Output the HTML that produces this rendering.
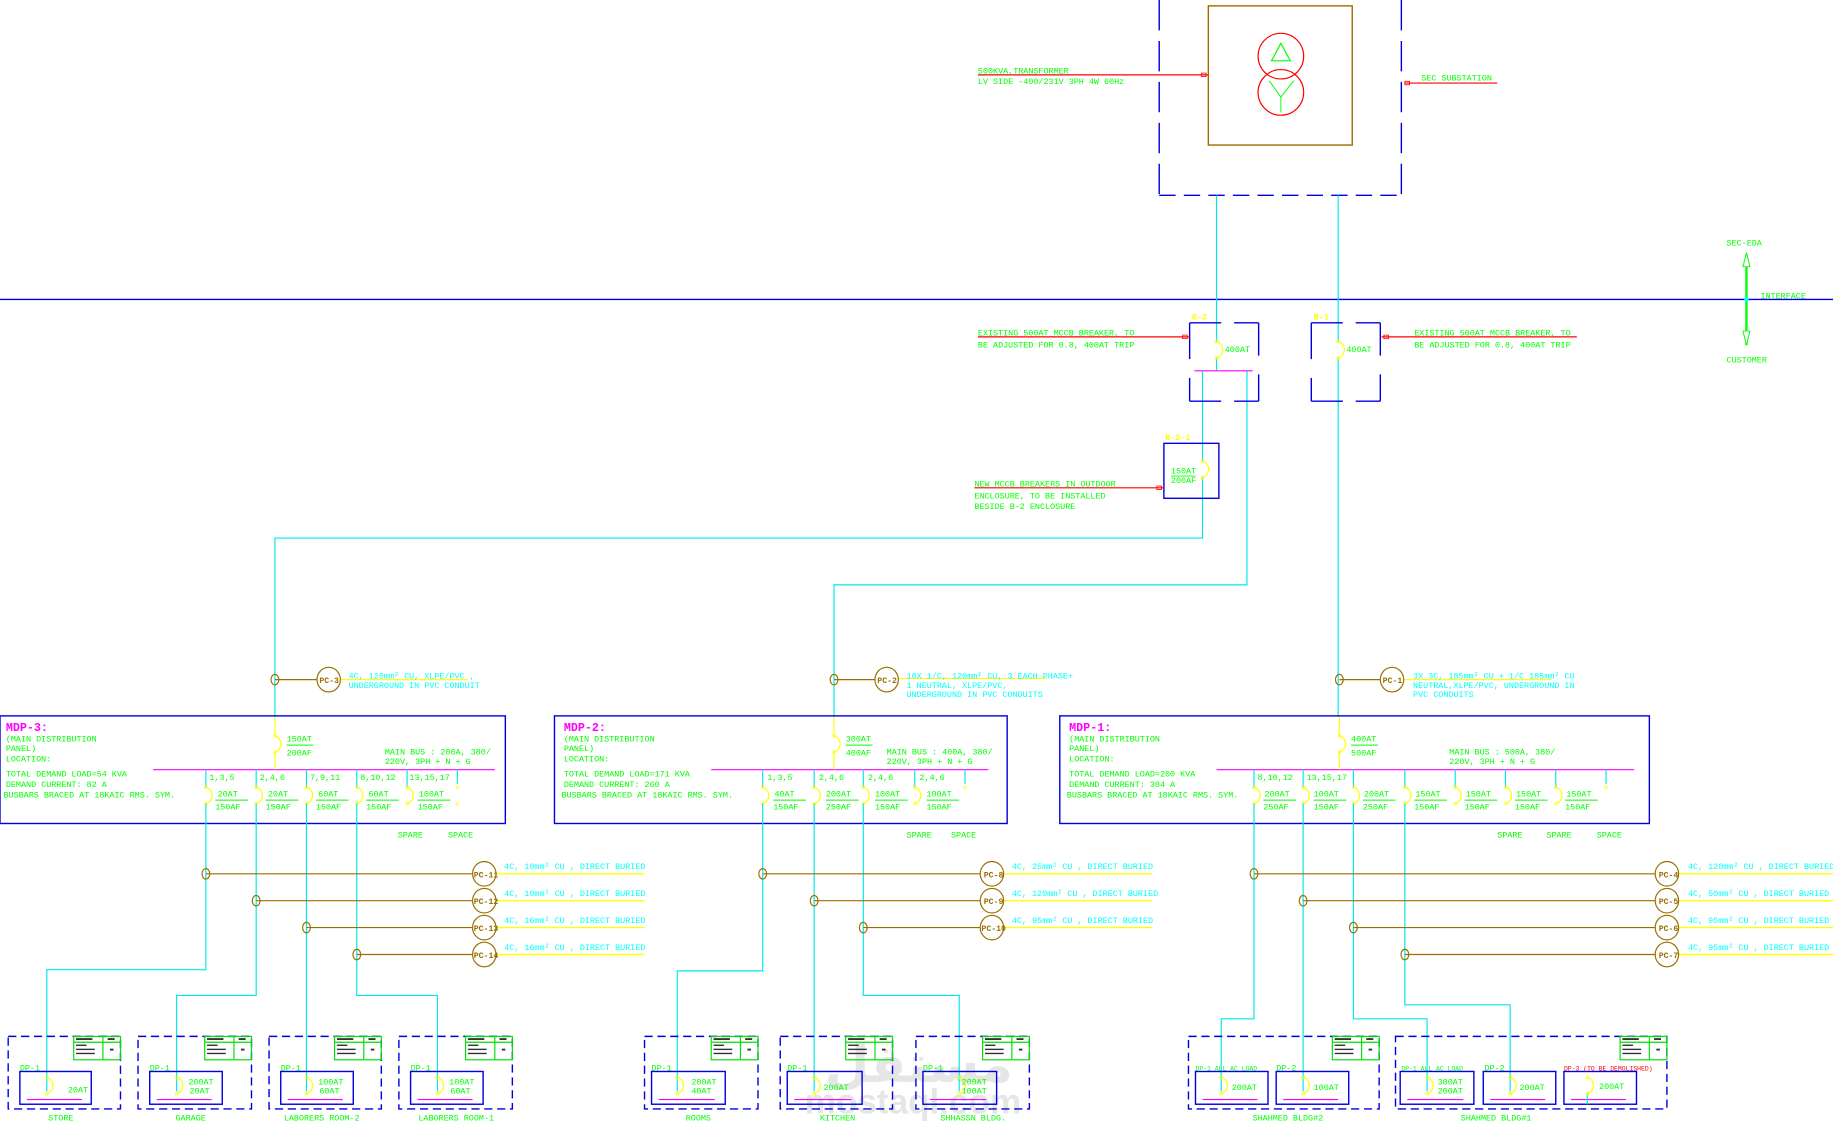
<!DOCTYPE html>
<html><head><meta charset="utf-8"><style>
html,body{margin:0;padding:0;background:#fff;}
svg{display:block}
text{font-family:"Liberation Mono",monospace;font-size:7.2px;}
.g{fill:#00ff00}.c{fill:#00ffff}.y{fill:#ffff00;font-weight:bold}.m{fill:#ff00ff;font-weight:bold;font-size:10px}.r{fill:#ff0000}.br{fill:#9a6f00;font-weight:bold;font-size:7px}
.w{fill:#e6e6e6;font-family:"Liberation Sans","DejaVu Sans",sans-serif;font-weight:bold}
</style></head><body>
<svg width="1833" height="1144" viewBox="0 0 1567 978" preserveAspectRatio="none" xmlns="http://www.w3.org/2000/svg">
<defs>
<g id="b"><path d="M0,0 c7,2 7,12 0,14" fill="none" stroke="#ff0" stroke-width="1"/><circle cx="0" cy="0" r="1.2" fill="none" stroke="#ff0" stroke-width=".6"/><circle cx="0" cy="14" r="1.2" fill="none" stroke="#ff0" stroke-width=".6"/></g>
<g id="tbl"><rect x="0" y="0" width="40" height="20" fill="none" stroke="#00e000" stroke-width="1"/><line x1="25" y1="0" x2="25" y2="20" stroke="#00e000"/><line x1="0" y1="5" x2="40" y2="5" stroke="#00e000"/><rect x="2" y="1.5" width="14" height="1.6" fill="#333"/><rect x="29" y="1.5" width="6" height="1.6" fill="#333"/><rect x="2" y="7" width="9" height="1.2" fill="#333"/><rect x="2" y="10.5" width="16" height="1.2" fill="#333"/><rect x="2" y="14" width="16" height="1.2" fill="#333"/><rect x="31" y="10.5" width="3" height="1.6" fill="#333"/></g>
<g id="pc"><ellipse cx="0" cy="0" rx="10" ry="10.5" fill="#fff" stroke="#9a6f00" stroke-width="1"/></g>
<g id="tap"><ellipse cx="0" cy="0" rx="3.3" ry="4.5" fill="none" stroke="#9a6f00" stroke-width="1"/></g>
</defs>

<!-- watermark -->
<text x="705" y="925" class="w" style="font-size:44px">مستقل</text>
<text x="688" y="952" class="w" style="font-size:30px">mostaql.com</text>

<!-- transformer -->
<g stroke="#0000e0" stroke-width="1.2" fill="none">
<line x1="991" y1="0" x2="991" y2="167" stroke-dasharray="26,9"/>
<line x1="1198" y1="0" x2="1198" y2="167" stroke-dasharray="26,9"/>
<line x1="991" y1="167" x2="1198" y2="167" stroke-dasharray="14,7"/>
<line x1="0" y1="256" x2="1567" y2="256"/>
</g>
<rect x="1033" y="5" width="123" height="119" fill="none" stroke="#9a6f00" stroke-width="1.2"/>
<circle cx="1095" cy="48" r="19.5" fill="none" stroke="#f00" stroke-width="1"/>
<circle cx="1095" cy="79" r="19.5" fill="none" stroke="#f00" stroke-width="1"/>
<path d="M1095,37 L1087,52 L1103,52 Z" fill="none" stroke="#0f0" stroke-width="1"/>
<path d="M1085,69 L1095,83 L1106,69 M1095,83 L1095,96" fill="none" stroke="#0f0" stroke-width=".8"/>
<line x1="836" y1="64" x2="1033" y2="64" stroke="#f00" stroke-width="1"/><rect x="1027" y="62.5" width="4" height="3" fill="none" stroke="#f00" stroke-width=".7"/>
<text x="836" y="63" class="g">500KVA,TRANSFORMER</text>
<text x="836" y="72" class="g">LV SIDE -400/231V 3PH 4W 60Hz</text>
<line x1="1201" y1="71" x2="1280" y2="71" stroke="#f00" stroke-width="1"/><rect x="1201" y="69.5" width="4" height="3" fill="none" stroke="#f00" stroke-width=".7"/>
<text x="1215" y="69" class="g">SEC SUBSTATION</text>

<!-- interface -->
<line x1="1493" y1="218" x2="1493" y2="295" stroke="#0f0" stroke-width="2"/>
<path d="M1493,216 L1490,228 L1496,228 Z M1493,295 L1490,283 L1496,283 Z" fill="#fff" stroke="#0f0" stroke-width=".8"/>
<circle cx="1493" cy="256" r="2" fill="#0ff"/>
<text x="1476" y="210" class="g">SEC-EDA</text>
<text x="1505" y="255" class="g">INTERFACE</text>
<text x="1476" y="310" class="g">CUSTOMER</text>

<!-- cyan main feeders -->
<g stroke="#00e8e8" stroke-width="1" fill="none">
<polyline points="1040,167 1040,292"/>
<polyline points="1040,306 1040,317"/>
<polyline points="1144,167 1144,292"/>
<polyline points="1144,306 1144,613"/>
<polyline points="1028,317 1028,394"/>
<polyline points="1028,408 1028,460 235,460 235,613"/>
<polyline points="1066,317 1066,500 713,500 713,613"/>
</g>
<line x1="1021" y1="317" x2="1071" y2="317" stroke="#f0f" stroke-width="1"/>
<use href="#b" x="1040" y="292"/><use href="#b" x="1144" y="292"/><use href="#b" x="1028" y="394"/>

<!-- B-2, B-1 -->
<g stroke="#0000e0" stroke-width="1.2" fill="none">
<path d="M1017,276 H1044 M1055,276 H1076 M1076,276 V304 M1076,320 V343 M1076,343 H1055 M1044,343 H1017 M1017,343 V323 M1017,307 V276"/>
<path d="M1121,276 H1148 M1159,276 H1180 M1180,276 V304 M1180,320 V343 M1180,343 H1159 M1148,343 H1121 M1121,343 V323 M1121,307 V276"/>
<rect x="995" y="379" width="47" height="47"/>
</g>
<text x="1019" y="273" class="y">B-2</text>
<text x="1123" y="273" class="y">B-1</text>
<text x="996" y="376" class="y">B-2-1</text>
<text x="1047" y="301" class="g">400AT</text>
<text x="1151" y="301" class="g">400AT</text>
<text x="1001" y="405" class="g">150AT</text><line x1="1001" y1="407" x2="1022" y2="407" stroke="#0f0" stroke-width=".8"/>
<text x="1001" y="413" class="g">200AF</text>
<line x1="836" y1="288" x2="1017" y2="288" stroke="#f00" stroke-width="1"/><rect x="1011" y="286.5" width="4" height="3" fill="none" stroke="#f00" stroke-width=".7"/>
<text x="836" y="287" class="g">EXISTING 500AT MCCB BREAKER, TO</text>
<text x="836" y="297" class="g">BE ADJUSTED FOR 0.8, 400AT TRIP</text>
<line x1="1181" y1="288" x2="1348" y2="288" stroke="#f00" stroke-width="1"/><rect x="1183" y="286.5" width="4" height="3" fill="none" stroke="#f00" stroke-width=".7"/>
<text x="1209" y="287" class="g">EXISTING 500AT MCCB BREAKER, TO</text>
<text x="1209" y="297" class="g">BE ADJUSTED FOR 0.8, 400AT TRIP</text>
<line x1="833" y1="417" x2="995" y2="417" stroke="#f00" stroke-width="1"/><rect x="989" y="415.5" width="4" height="3" fill="none" stroke="#f00" stroke-width=".7"/>
<text x="833" y="416" class="g">NEW MCCB BREAKERS IN OUTDOOR</text>
<text x="833" y="426" class="g">ENCLOSURE, TO BE INSTALLED</text>
<text x="833" y="435" class="g">BESIDE B-2 ENCLOSURE</text>

<!-- PC-3, PC-2, PC-1 -->
<g stroke="#9a6f00" stroke-width="1"><line x1="235" y1="581" x2="271" y2="581"/><line x1="713" y1="581" x2="748" y2="581"/><line x1="1145" y1="581" x2="1180" y2="581"/></g>
<g stroke="#ff0" stroke-width="1"><line x1="291" y1="581" x2="400" y2="581"/><line x1="768" y1="580" x2="895" y2="580"/><line x1="1200" y1="581" x2="1326" y2="581"/></g>
<use href="#tap" x="235" y="581"/><use href="#tap" x="713" y="581"/><use href="#tap" x="1145" y="581"/>
<use href="#pc" x="281" y="581"/><use href="#pc" x="758" y="581"/><use href="#pc" x="1190" y="581"/>
<text x="273" y="584" class="br">PC-3</text><text x="750" y="584" class="br">PC-2</text><text x="1182" y="584" class="br">PC-1</text>
<text x="298" y="580" class="c">4C, 120mm² CU, XLPE/PVC ,</text>
<text x="298" y="588" class="c">UNDERGROUND IN PVC CONDUIT</text>
<text x="775" y="580" class="c">10X 1/C, 120mm² CU, 3 EACH PHASE+</text>
<text x="775" y="588" class="c">1 NEUTRAL, XLPE/PVC,</text>
<text x="775" y="596" class="c">UNDERGROUND IN PVC CONDUITS</text>
<text x="1208" y="580" class="c">3X 3C, 185mm² CU + 1/C 185mm² CU</text>
<text x="1208" y="588" class="c">NEUTRAL,XLPE/PVC, UNDERGROUND IN</text>
<text x="1208" y="596" class="c">PVC CONDUITS</text>

<!-- MDP boxes -->
<g fill="none" stroke="#0000e0" stroke-width="1.2">
<rect x="0" y="612" width="432" height="92"/>
<rect x="474" y="612" width="387" height="92"/>
<rect x="906" y="612" width="504" height="92"/>
</g>
<g stroke="#f0f" stroke-width="1"><line x1="131" y1="658" x2="423" y2="658"/><line x1="608" y1="658" x2="845" y2="658"/><line x1="1040" y1="658" x2="1397" y2="658"/></g>
<g stroke="#ff0" stroke-width="1"><path d="M235,613V629M235,643V658M713,613V629M713,643V658M1145,613V629M1145,643V658"/></g>
<use href="#b" x="235" y="629"/><use href="#b" x="713" y="629"/><use href="#b" x="1145" y="629"/>
<text x="245" y="634" class="g">150AT</text><line x1="245" y1="637" x2="268" y2="637" stroke="#0f0" stroke-width=".8"/><text x="245" y="646" class="g">200AF</text>
<text x="723" y="634" class="g">300AT</text><line x1="723" y1="637" x2="746" y2="637" stroke="#0f0" stroke-width=".8"/><text x="723" y="646" class="g">400AF</text>
<text x="1155" y="634" class="g">400AT</text><line x1="1155" y1="637" x2="1178" y2="637" stroke="#0f0" stroke-width=".8"/><text x="1155" y="646" class="g">500AF</text>

<text x="5" y="625" class="m">MDP-3:</text>
<text x="5" y="634" class="g">(MAIN DISTRIBUTION</text><text x="5" y="642" class="g">PANEL)</text><text x="5" y="651" class="g">LOCATION:</text>
<text x="5" y="664" class="g">TOTAL DEMAND LOAD=54 KVA</text><text x="5" y="673" class="g">DEMAND CURRENT: 82 A</text><text x="3" y="682" class="g">BUSBARS BRACED AT 18KAIC RMS. SYM.</text>
<text x="329" y="645" class="g">MAIN BUS : 200A, 380/</text><text x="329" y="653" class="g">220V, 3PH + N + G</text>
<text x="340" y="716" class="g">SPARE</text><text x="383" y="716" class="g">SPACE</text>
<text x="482" y="625" class="m">MDP-2:</text>
<text x="482" y="634" class="g">(MAIN DISTRIBUTION</text><text x="482" y="642" class="g">PANEL)</text><text x="482" y="651" class="g">LOCATION:</text>
<text x="482" y="664" class="g">TOTAL DEMAND LOAD=171 KVA</text><text x="482" y="673" class="g">DEMAND CURRENT: 260 A</text><text x="480" y="682" class="g">BUSBARS BRACED AT 18KAIC RMS. SYM.</text>
<text x="758" y="645" class="g">MAIN BUS : 400A, 380/</text><text x="758" y="653" class="g">220V, 3PH + N + G</text>
<text x="775" y="716" class="g">SPARE</text><text x="813" y="716" class="g">SPACE</text>
<text x="914" y="625" class="m">MDP-1:</text>
<text x="914" y="634" class="g">(MAIN DISTRIBUTION</text><text x="914" y="642" class="g">PANEL)</text><text x="914" y="651" class="g">LOCATION:</text>
<text x="914" y="664" class="g">TOTAL DEMAND LOAD=200 KVA</text><text x="914" y="673" class="g">DEMAND CURRENT: 304 A</text><text x="912" y="682" class="g">BUSBARS BRACED AT 18KAIC RMS. SYM.</text>
<text x="1239" y="645" class="g">MAIN BUS : 500A, 380/</text><text x="1239" y="653" class="g">220V, 3PH + N + G</text>
<text x="1280" y="716" class="g">SPARE</text><text x="1322" y="716" class="g">SPARE</text><text x="1365" y="716" class="g">SPACE</text>

<g stroke="#00e8e8" stroke-width="1">
<path d="M176,658V673M219,658V673M262,658V673M305,658V673M348,658V673M391,658V670"/>
<path d="M652,658V673M696,658V673M738,658V673M782,658V673M825,658V670"/>
<path d="M1072,658V673M1114,658V673M1157,658V673M1201,658V673M1244,658V673M1287,658V673M1330,658V673M1373,658V670"/>
</g>
<use href="#b" x="176" y="673"/><use href="#b" x="219" y="673"/><use href="#b" x="262" y="673"/><use href="#b" x="305" y="673"/><use href="#b" x="348" y="673"/>
<use href="#b" x="652" y="673"/><use href="#b" x="696" y="673"/><use href="#b" x="738" y="673"/><use href="#b" x="782" y="673"/>
<use href="#b" x="1072" y="673"/><use href="#b" x="1114" y="673"/><use href="#b" x="1157" y="673"/><use href="#b" x="1201" y="673"/><use href="#b" x="1244" y="673"/><use href="#b" x="1287" y="673"/><use href="#b" x="1330" y="673"/>
<g fill="none" stroke="#ff0" stroke-width=".6"><circle cx="391" cy="673" r="1.2"/><circle cx="391" cy="687" r="1.2"/><circle cx="825" cy="673" r="1.2"/><circle cx="1373" cy="673" r="1.2"/></g>

<text x="179" y="667" class="g">1,3,5</text><text x="222" y="667" class="g">2,4,6</text><text x="265" y="667" class="g">7,9,11</text><text x="308" y="667" class="g">8,10,12</text><text x="350" y="667" class="g">13,15,17</text>
<text x="186" y="681" class="g">20AT</text><text x="184" y="692" class="g">150AF</text>
<text x="229" y="681" class="g">20AT</text><text x="227" y="692" class="g">150AF</text>
<text x="272" y="681" class="g">60AT</text><text x="270" y="692" class="g">150AF</text>
<text x="315" y="681" class="g">60AT</text><text x="313" y="692" class="g">150AF</text>
<text x="358" y="681" class="g">100AT</text><text x="357" y="692" class="g">150AF</text>
<text x="656" y="667" class="g">1,3,5</text><text x="700" y="667" class="g">2,4,6</text><text x="742" y="667" class="g">2,4,6</text><text x="786" y="667" class="g">2,4,6</text>
<text x="662" y="681" class="g">40AT</text><text x="661" y="692" class="g">150AF</text>
<text x="706" y="681" class="g">200AT</text><text x="706" y="692" class="g">250AF</text>
<text x="748" y="681" class="g">100AT</text><text x="748" y="692" class="g">150AF</text>
<text x="792" y="681" class="g">100AT</text><text x="792" y="692" class="g">150AF</text>
<text x="1075" y="667" class="g">8,10,12</text><text x="1117" y="667" class="g">13,15,17</text>
<text x="1081" y="681" class="g">200AT</text><text x="1080" y="692" class="g">250AF</text>
<text x="1123" y="681" class="g">100AT</text><text x="1123" y="692" class="g">150AF</text>
<text x="1166" y="681" class="g">200AT</text><text x="1165" y="692" class="g">250AF</text>
<text x="1210" y="681" class="g">150AT</text><text x="1209" y="692" class="g">150AF</text>
<text x="1253" y="681" class="g">150AT</text><text x="1252" y="692" class="g">150AF</text>
<text x="1296" y="681" class="g">150AT</text><text x="1295" y="692" class="g">150AF</text>
<text x="1339" y="681" class="g">150AT</text><text x="1338" y="692" class="g">150AF</text>
<g stroke="#0f0" stroke-width=".8">
<path d="M184,684h28M227,684h28M270,684h28M313,684h28M357,684h28"/>
<path d="M661,684h28M706,684h28M748,684h28M792,684h28"/>
<path d="M1080,684h28M1123,684h28M1165,684h28M1209,684h28M1252,684h28M1295,684h28M1338,684h28"/>
</g>

<g stroke="#00e8e8" stroke-width="1" fill="none">
<polyline points="176,687 176,829 40,829 40,933"/>
<polyline points="219,687 219,851 151,851 151,933"/>
<polyline points="262,687 262,933"/>
<polyline points="305,687 305,851 374,851 374,933"/>
<polyline points="652,687 652,830 579,830 579,933"/>
<polyline points="696,687 696,933"/>
<polyline points="738,687 738,851 820,851 820,933"/>
<polyline points="1072,687 1072,871 1044,871 1044,933"/>
<polyline points="1114,687 1114,933"/>
<polyline points="1157,687 1157,871 1220,871 1220,933"/>
<polyline points="1201,687 1201,859 1291,859 1291,933"/>
</g>

<g stroke="#9a6f00" stroke-width="1">
<path d="M176,747H404M219,770H404M262,793H404M305,816H404"/>
<path d="M652,747H838M696,770H838M738,793H838"/>
<path d="M1072,747H1415M1114,770H1415M1157,793H1415M1201,816H1415"/>
</g>
<g stroke="#ff0" stroke-width="1.2">
<path d="M424,747H551M424,770H551M424,793H551M424,816H551"/>
<path d="M858,747H985M858,770H985M858,793H985"/>
<path d="M1435,747H1567M1435,770H1567M1435,793H1567M1435,816H1567"/>
</g>
<use href="#tap" x="176" y="747"/><use href="#tap" x="219" y="770"/><use href="#tap" x="262" y="793"/><use href="#tap" x="305" y="816"/>
<use href="#tap" x="652" y="747"/><use href="#tap" x="696" y="770"/><use href="#tap" x="738" y="793"/>
<use href="#tap" x="1072" y="747"/><use href="#tap" x="1114" y="770"/><use href="#tap" x="1157" y="793"/><use href="#tap" x="1201" y="816"/>
<use href="#pc" x="414" y="747"/><use href="#pc" x="414" y="770"/><use href="#pc" x="414" y="793"/><use href="#pc" x="414" y="816"/>
<use href="#pc" x="848" y="747"/><use href="#pc" x="848" y="770"/><use href="#pc" x="848" y="793"/>
<use href="#pc" x="1425" y="747"/><use href="#pc" x="1425" y="770"/><use href="#pc" x="1425" y="793"/><use href="#pc" x="1425" y="816"/>
<text x="405" y="750" class="br">PC-11</text><text x="405" y="773" class="br">PC-12</text><text x="405" y="796" class="br">PC-13</text><text x="405" y="819" class="br">PC-14</text>
<text x="841" y="750" class="br">PC-8</text><text x="841" y="773" class="br">PC-9</text><text x="839" y="796" class="br">PC-10</text>
<text x="1418" y="750" class="br">PC-4</text><text x="1418" y="773" class="br">PC-5</text><text x="1418" y="796" class="br">PC-6</text><text x="1418" y="819" class="br">PC-7</text>
<text x="431" y="743" class="c">4C, 10mm² CU , DIRECT BURIED</text>
<text x="431" y="766" class="c">4C, 10mm² CU , DIRECT BURIED</text>
<text x="431" y="789" class="c">4C, 16mm² CU , DIRECT BURIED</text>
<text x="431" y="812" class="c">4C, 16mm² CU , DIRECT BURIED</text>
<text x="865" y="743" class="c">4C, 25mm² CU , DIRECT BURIED</text>
<text x="865" y="766" class="c">4C, 120mm² CU , DIRECT BURIED</text>
<text x="865" y="789" class="c">4C, 95mm² CU , DIRECT BURIED</text>
<text x="1443" y="743" class="c">4C, 120mm² CU , DIRECT BURIED</text>
<text x="1443" y="766" class="c">4C, 50mm² CU , DIRECT BURIED</text>
<text x="1443" y="789" class="c">4C, 95mm² CU , DIRECT BURIED</text>
<text x="1443" y="812" class="c">4C, 95mm² CU , DIRECT BURIED</text>

<g fill="none" stroke="#0000e0" stroke-width="1.2" stroke-dasharray="7,4">
<rect x="7" y="886" width="96" height="62"/>
<rect x="118" y="886" width="97" height="62"/>
<rect x="230" y="886" width="96" height="62"/>
<rect x="341" y="886" width="97" height="62"/>
<rect x="551" y="886" width="97" height="62"/>
<rect x="667" y="886" width="96" height="62"/>
<rect x="783" y="886" width="97" height="62"/>
<rect x="1016" y="886" width="163" height="62"/>
<rect x="1193" y="886" width="232" height="62"/>
</g>
<g fill="none" stroke="#0000e0" stroke-width="1.2">
<rect x="17" y="916" width="61" height="28"/>
<rect x="128" y="916" width="62" height="28"/>
<rect x="240" y="916" width="62" height="28"/>
<rect x="351" y="916" width="62" height="28"/>
<rect x="557" y="916" width="63" height="28"/>
<rect x="673" y="916" width="64" height="28"/>
<rect x="789" y="916" width="63" height="28"/>
<rect x="1022" y="916" width="62" height="28"/>
<rect x="1091" y="916" width="62" height="28"/>
<rect x="1197" y="916" width="63" height="28"/>
<rect x="1268" y="916" width="62" height="28"/>
<rect x="1337" y="916" width="62" height="28"/>
</g>
<g stroke="#f0f" stroke-width="1">
<path d="M23,940h47M134,940h47M246,940h47M357,940h47M563,940h48M679,940h49M795,940h48M1028,940h47M1097,940h47M1203,940h48M1274,940h47M1343,940h47"/>
</g>
<g stroke="#00e8e8" stroke-width="1"><path d="M1357,935V944"/></g>
<use href="#tbl" x="63" y="886"/><use href="#tbl" x="175" y="886"/><use href="#tbl" x="286" y="886"/><use href="#tbl" x="398" y="886"/>
<use href="#tbl" x="608" y="886"/><use href="#tbl" x="723" y="886"/><use href="#tbl" x="840" y="886"/>
<use href="#tbl" x="1139" y="886"/><use href="#tbl" x="1385" y="886"/>
<use href="#b" x="40" y="921"/><use href="#b" x="151" y="921"/><use href="#b" x="262" y="921"/><use href="#b" x="374" y="921"/>
<use href="#b" x="579" y="921"/><use href="#b" x="696" y="921"/><use href="#b" x="820" y="921"/>
<use href="#b" x="1044" y="921"/><use href="#b" x="1114" y="921"/><use href="#b" x="1220" y="921"/><use href="#b" x="1291" y="921"/><use href="#b" x="1357" y="921"/>
<text x="17" y="915" class="g">DP-1</text><text x="128" y="915" class="g">DP-1</text><text x="240" y="915" class="g">DP-1</text><text x="351" y="915" class="g">DP-1</text>
<text x="557" y="915" class="g">DP-1</text><text x="673" y="915" class="g">DP-1</text><text x="789" y="915" class="g">DP-1</text>
<text x="1022" y="915" class="g" style="font-size:5.5px">DP-1 ALL AC LOAD</text><text x="1091" y="915" class="g">DP-2</text>
<text x="1198" y="915" class="g" style="font-size:5.5px">DP-1 ALL AC LOAD</text><text x="1269" y="915" class="g">DP-2</text><text x="1337" y="915" class="r" style="font-size:5.5px">DP-3 (TO BE DEMOLISHED)</text>
<text x="58" y="934" class="g">20AT</text>
<text x="161" y="927" class="g">200AT</text><text x="162" y="935" class="g">20AT</text>
<text x="272" y="927" class="g">100AT</text><text x="273" y="935" class="g">60AT</text>
<text x="384" y="927" class="g">100AT</text><text x="385" y="935" class="g">60AT</text>
<text x="591" y="927" class="g">200AT</text><text x="591" y="935" class="g">40AT</text>
<text x="704" y="932" class="g">200AT</text>
<text x="822" y="927" class="g">200AT</text><text x="822" y="935" class="g">100AT</text>
<text x="1053" y="932" class="g">200AT</text>
<text x="1123" y="932" class="g">100AT</text>
<text x="1229" y="927" class="g">300AT</text><text x="1229" y="935" class="g">200AT</text>
<text x="1299" y="932" class="g">200AT</text>
<text x="1367" y="931" class="g">200AT</text>
<text x="52" y="958" class="g" text-anchor="middle">STORE</text>
<text x="163" y="958" class="g" text-anchor="middle">GARAGE</text>
<text x="275" y="958" class="g" text-anchor="middle">LABORERS ROOM-2</text>
<text x="390" y="958" class="g" text-anchor="middle">LABORERS ROOM-1</text>
<text x="597" y="958" class="g" text-anchor="middle">ROOMS</text>
<text x="716" y="958" class="g" text-anchor="middle">KITCHEN</text>
<text x="832" y="958" class="g" text-anchor="middle">SHHASSN BLDG.</text>
<text x="1101" y="958" class="g" text-anchor="middle">SHAHMED BLDG#2</text>
<text x="1279" y="958" class="g" text-anchor="middle">SHAHMED BLDG#1</text>
</svg>
</body></html>
